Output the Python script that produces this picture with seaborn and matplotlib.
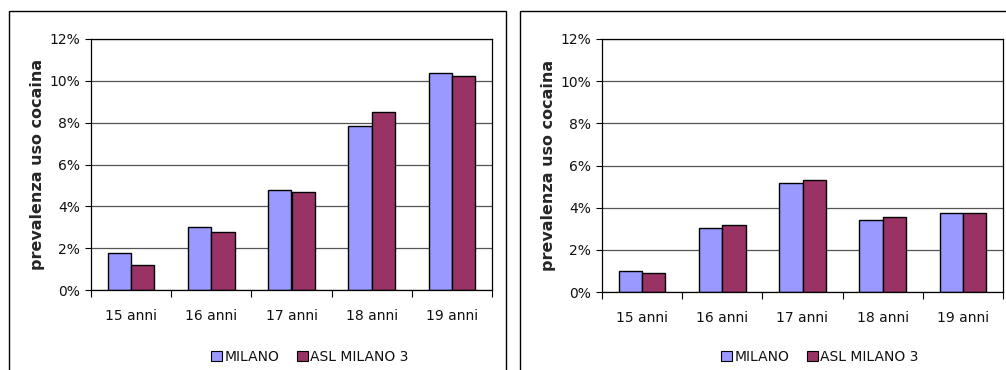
import matplotlib
matplotlib.use("Agg")
import matplotlib.pyplot as plt
from matplotlib.patches import Rectangle
from matplotlib.ticker import FixedLocator, PercentFormatter
import seaborn as sns
import pandas as pd

# Age classes and prevalence of cocaine use (%), two panels
ages = ["15 anni", "16 anni", "17 anni", "18 anni", "19 anni"]
series = ["MILANO", "ASL MILANO 3"]
left_milano = [1.75, 3.03, 4.77, 7.85, 10.38]
left_asl = [1.20, 2.77, 4.69, 8.53, 10.25]
right_milano = [1.00, 3.05, 5.19, 3.40, 3.77]
right_asl = [0.90, 3.20, 5.33, 3.55, 3.77]

colors = {"MILANO": "#9999FF", "ASL MILANO 3": "#993366"}
ylabel = "prevalenza uso cocaina"

sns.set_theme(style="white")
plt.rcParams["font.family"] = ["DejaVu Sans"]

W, H = 1006, 370
fig = plt.figure(figsize=(W / 100, H / 100), dpi=100)


def px_axes(x0, y0, x1, y1):
    return fig.add_axes([x0 / W, 1 - y1 / H, (x1 - x0) / W, (y1 - y0) / H])


def frame(x0, y0, x1, y1):
    fig.patches.append(Rectangle((x0 / W, 1 - y1 / H), (x1 - x0) / W, (y1 - y0) / H,
                                 transform=fig.transFigure, fill=False,
                                 edgecolor="black", linewidth=1.0))


def panel(ax, milano, asl, legend_center):
    df = pd.DataFrame({
        "age": ages * 2,
        "serie": [series[0]] * len(ages) + [series[1]] * len(ages),
        "value": milano + asl,
    })
    sns.barplot(data=df, x="age", y="value", hue="serie", order=ages,
                hue_order=series, palette=colors, width=0.58, ax=ax,
                edgecolor="black", linewidth=1.0, saturation=1, legend=True)
    ax.set_ylim(0, 12)
    ax.set_xlim(-0.5, len(ages) - 0.5)
    ax.yaxis.set_major_locator(FixedLocator([0, 2, 4, 6, 8, 10, 12]))
    ax.yaxis.set_major_formatter(PercentFormatter(decimals=0))
    ax.grid(axis="y", color="#555555", linewidth=0.9)
    ax.set_axisbelow(True)
    for s in ax.spines.values():
        s.set_visible(True)
        s.set_color("black")
        s.set_linewidth(0.9)
    ax.set_xlabel("")
    ax.set_ylabel(ylabel, fontsize=11.5, fontweight="bold", labelpad=3)
    ax.tick_params(axis="y", which="major", left=True, length=4, width=0.8,
                   color="black", labelsize=10, labelcolor="#111111", pad=4)
    ax.tick_params(axis="x", which="major", bottom=False, length=0,
                   labelsize=10, labelcolor="#111111", pad=14)
    ax.xaxis.set_minor_locator(FixedLocator([i - 0.5 for i in range(len(ages) + 1)]))
    ax.tick_params(axis="x", which="minor", bottom=True, length=5, width=0.8,
                   color="black")
    ax.get_legend().remove()
    handles = [Rectangle((0, 0), 1, 1, facecolor=colors[s], edgecolor="black",
                         linewidth=0.8) for s in series]
    ax.legend(handles, series, loc="center",
              bbox_to_anchor=legend_center, bbox_transform=fig.transFigure,
              ncol=2, frameon=False, fontsize=10, handlelength=0.8,
              handleheight=0.8, handletextpad=0.15, columnspacing=1.3,
              borderaxespad=0, labelcolor="#111111")


# outer chart frames
frame(9, 11, 506, 380)
frame(520, 11, 1020, 380)

ax1 = px_axes(91, 39, 492, 290)
panel(ax1, left_milano, left_asl, (310 / W, 1 - 357 / H))

ax2 = px_axes(602, 39, 1003, 292)
panel(ax2, right_milano, right_asl, (820 / W, 1 - 357 / H))

fig.savefig("out.png", dpi=100, facecolor="white")
